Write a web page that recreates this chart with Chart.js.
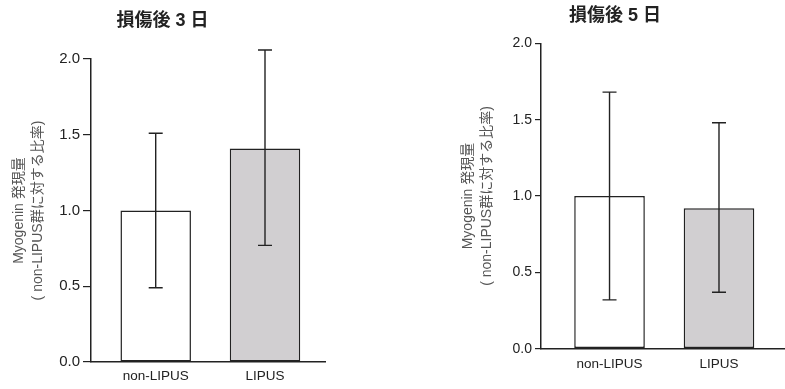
<!DOCTYPE html>
<html>
<head>
<meta charset="utf-8">
<script src="https://cdn.jsdelivr.net/npm/chart.js@4/dist/chart.umd.min.js"></script>
<style>
  body { margin: 0; background: #fff; }
  canvas { position: absolute; top: 0; }
  #day3 { left: 0; }
  #day5 { left: 445px; }
</style>
</head>
<body>
<canvas id="day3"></canvas>
<canvas id="day5"></canvas>
<script>
var categories = ["non-LIPUS", "LIPUS"];
var barColors = ["#ffffff", "#d1cfd1"];
var yTicks = [0, 0.5, 1.0, 1.5, 2.0];
var yTitle = ["Myogenin 発現量", "( non-LIPUS群に対する比率)"];

// 損傷後 3 日
var day3Values = [1.0, 1.41];
var day3Low = [0.49, 0.77];
var day3High = [1.51, 2.06];

// 損傷後 5 日
var day5Values = [1.0, 0.92];
var day5Low = [0.32, 0.37];
var day5High = [1.68, 1.48];

var FONT = "'Liberation Sans', Arial, 'Noto Sans CJK JP', sans-serif";
var INK = "#222";

var errorBars = {
  id: "errorBars",
  afterDatasetsDraw: function (chart, args, opts) {
    var ctx = chart.ctx;
    var y = chart.scales.y;
    var bars = chart.getDatasetMeta(0).data;
    ctx.save();
    ctx.strokeStyle = INK;
    ctx.lineWidth = 1.4;
    bars.forEach(function (bar, i) {
      var top = y.getPixelForValue(opts.high[i]);
      var bot = y.getPixelForValue(opts.low[i]);
      ctx.beginPath();
      ctx.moveTo(bar.x, top);
      ctx.lineTo(bar.x, bot);
      ctx.moveTo(bar.x - 7, top);
      ctx.lineTo(bar.x + 7, top);
      ctx.moveTo(bar.x - 7, bot);
      ctx.lineTo(bar.x + 7, bot);
      ctx.stroke();
    });
    ctx.restore();
  },
};

function drawBarChart(canvasId, w, title, values, low, high, s) {
  var el = document.getElementById(canvasId);
  el.width = w;
  el.height = 389;

  new Chart(el, {
    type: "bar",
    data: {
      datasets: [
        {
          data: values.map(function (v, i) { return { x: i + 1, y: v }; }),
          backgroundColor: barColors,
          borderColor: INK,
          borderWidth: 1.5,
          borderSkipped: false,
          barPercentage: 0.645,
          categoryPercentage: 1,
        },
      ],
    },
    plugins: [errorBars],
    options: {
      responsive: false,
      animation: false,
      layout: { padding: { top: 0, right: s.padRight, bottom: 0, left: 0 } },
      plugins: {
        legend: { display: false },
        tooltip: { enabled: false },
        title: {
          display: true,
          text: title,
          color: INK,
          font: { family: FONT, size: 18, weight: "bold", lineHeight: 1.2 },
          padding: { top: s.titleTop, bottom: s.titleBottom },
        },
        errorBars: { low: low, high: high },
      },
      scales: {
        x: {
          type: "linear",
          offset: false,
          min: s.xMin,
          max: s.xMax,
          afterBuildTicks: function (scale) {
            scale.ticks = categories.map(function (c, i) { return { value: i + 1 }; });
          },
          afterFit: function (scale) { scale.height = s.xHeight; },
          grid: { display: false, drawTicks: false, offset: false },
          border: { display: true, color: INK, width: 1.5 },
          ticks: {
            color: INK,
            padding: s.xPad,
            maxRotation: 0,
            font: { family: FONT, size: 13.5 },
            callback: function (v) { return categories[v - 1]; },
          },
        },
        y: {
          min: 0,
          max: 2,
          afterBuildTicks: function (scale) {
            scale.ticks = yTicks.map(function (v) { return { value: v }; });
          },
          afterFit: function (scale) { scale.width = s.yWidth; },
          grid: { display: true, drawOnChartArea: false, drawTicks: true, tickLength: s.tickLen, color: INK, lineWidth: 1.2 },
          border: { display: true, color: INK, width: 1.5 },
          ticks: {
            color: INK,
            padding: 3,
            font: { family: FONT, size: s.tickSize },
            callback: function (v) { return v.toFixed(1); },
          },
          title: {
            display: true,
            text: yTitle,
            color: "#555",
            font: { family: FONT, size: 14, lineHeight: 1.36 },
            padding: { top: s.yTitleTop, bottom: 0 },
          },
        },
      },
    },
  });
}

drawBarChart("day3", 422, "損傷後 3 日", day3Values, day3Low, day3High, {
  padRight: 97, titleTop: 10.5, titleBottom: 27, xHeight: 27, xPad: 6.5,
  yWidth: 91, yTitleTop: 9.5, xMin: 0.408, xMax: 2.549, tickSize: 15, tickLen: 8,
});
drawBarChart("day5", 340, "損傷後 5 日", day5Values, day5Low, day5High, {
  padRight: 0, titleTop: 5.2, titleBottom: 16.5, xHeight: 40.3, xPad: 7,
  yWidth: 96, yTitleTop: 13.5, xMin: 0.374, xMax: 2.603, tickSize: 14, tickLen: 6,
});
</script>
</body>
</html>
